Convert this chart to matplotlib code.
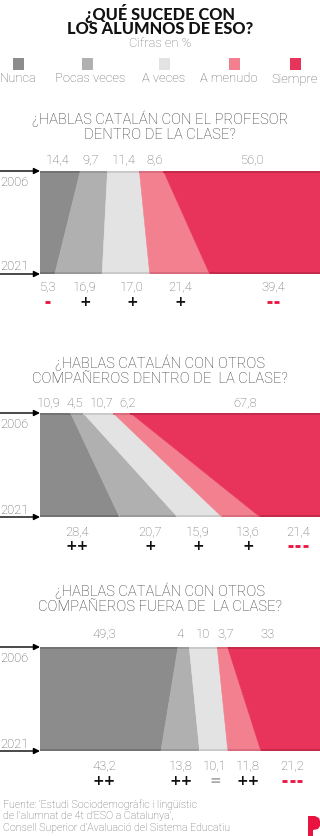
import matplotlib
matplotlib.use("Agg")
import matplotlib.pyplot as plt
import numpy as np
from matplotlib.transforms import blended_transform_factory
from matplotlib.patches import Rectangle, Polygon

# ---------------- data ----------------
categories = ["Nunca", "Pocas veces", "A veces", "A menudo", "Siempre"]
questions = [
    "¿HABLAS CATALÁN CON EL PROFESOR\nDENTRO DE LA CLASE?",
    "¿HABLAS CATALÁN CON OTROS\nCOMPAÑEROS DENTRO DE  LA CLASE?",
    "¿HABLAS CATALÁN CON OTROS\nCOMPAÑEROS FUERA DE  LA CLASE?",
]
values_2006 = [
    [14.4, 9.7, 11.4, 8.6, 56.0],
    [10.9, 4.5, 10.7, 6.2, 67.8],
    [49.3, 4.0, 10.0, 3.7, 33.0],
]
values_2021 = [
    [5.3, 16.9, 17.0, 21.4, 39.4],
    [28.4, 20.7, 15.9, 13.6, 21.4],
    [43.2, 13.8, 10.1, 11.8, 21.2],
]
labels_2006 = [
    ["14,4", "9,7", "11,4", "8,6", "56,0"],
    ["10,9", "4,5", "10,7", "6,2", "67,8"],
    ["49,3", "4", "10", "3,7", "33"],
]
labels_2021 = [
    ["5,3", "16,9", "17,0", "21,4", "39,4"],
    ["28,4", "20,7", "15,9", "13,6", "21,4"],
    ["43,2", "13,8", "10,1", "11,8", "21,2"],
]
change_signs = [
    ["-", "+", "+", "+", "--"],
    ["++", "+", "+", "+", "---"],
    ["++", "++", "=", "++", "---"],
]
years = ["2006", "2021"]

# ---------------- styles / layout ----------------
colors = ["#8c8c8c", "#b0b0b0", "#e3e3e3", "#f2808f", "#e8335a"]
dark_colors = ["#737373", "#9a9a9a", "#cacaca", "#d96b7c", "#c52a4b"]
sign_colors = {"-": "#e8133f", "+": "#111111", "=": "#aaaaaa"}

W, H = 320, 836
panel_px = [(171, 274), (413, 517), (647, 751)]
question_off = [-45, -43, -49]
top_lab_off = [-11, -10, -13]
bot_lab_off = [13, 15, 15]
sign_off = [28, 29, 30]
nudge_top = [[-0.8, -1.3, 0.2, 1.2, 3.7],
             [-2.5, -0.6, 1.3, 2.2, 7.0],
             [-1.7, -1.3, -0.1, 1.2, -2.1]]
nudge_bot = [[0.2, 2.3, 2.2, 0.1, 2.9],
             [-1.0, 0.5, -0.6, 2.5, 2.8],
             [1.3, 0.3, 0.4, 1.3, 0.5]]

FONT = "Roboto"
plt.rcParams["font.family"] = [FONT, "DejaVu Sans"]

def fy(py):
    return 1 - py / H

def fx(px):
    return px / W

fig = plt.figure(figsize=(W / 100, H / 100), dpi=100)
fig.patch.set_facecolor("white")

# ---------------- title ----------------
fig.text(0.5, fy(20.5), "¿QUÉ SUCEDE CON\nLOS ALUMNOS DE ESO?", ha="center", va="center",
         fontsize=11.8, fontweight=900, color="#111111", linespacing=0.92,
         family=["Lato", "Roboto", "DejaVu Sans"])
fig.text(0.5, fy(43.5), "Cifras en %", ha="center", va="center",
         fontsize=9.4, fontweight="light", color="#777777")

# ---------------- legend ----------------
leg_x = [18, 87, 164, 234, 295]
leg_text_x = [18, 90, 164, 229, 295]
for i, cat in enumerate(categories):
    fig.patches.append(Rectangle((fx(leg_x[i] - 5.5), fy(69.5)), fx(11), 11 / H,
                                 transform=fig.transFigure, facecolor=colors[i],
                                 edgecolor="none"))
    fig.text(fx(leg_text_x[i]), fy(79), cat, ha="center", va="center",
             fontsize=9.4, fontweight="light", color="#666666")

# ---------------- panels ----------------
strip = 2.2  # px
px_to_pct = 100 / 280
for p in range(3):
    T, B = panel_px[p]
    ax = fig.add_axes([40 / W, fy(B), 280 / W, (B - T) / H])
    ax.set_xlim(0, 100)
    ax.set_ylim(0, 1)
    ax.axis("off")
    c06 = np.concatenate([[0], np.cumsum(values_2006[p])])
    c21 = np.concatenate([[0], np.cumsum(values_2021[p])])
    hs = strip / (B - T)
    for i in range(5):
        ax.fill([c06[i], c06[i + 1], c21[i + 1], c21[i]], [1, 1, 0, 0],
                color=colors[i], lw=0.4, ec=colors[i])
        ax.add_patch(Rectangle((c06[i], 1 - hs), c06[i + 1] - c06[i], hs,
                               facecolor=dark_colors[i], edgecolor="none"))
        ax.add_patch(Rectangle((c21[i], 0), c21[i + 1] - c21[i], hs,
                               facecolor=dark_colors[i], edgecolor="none"))

    tr = blended_transform_factory(ax.transData, fig.transFigure)
    for i in range(5):
        xm = (c06[i] + c06[i + 1]) / 2 + nudge_top[p][i]
        ax.text(xm, fy(T + top_lab_off[p]), labels_2006[p][i], transform=tr,
                ha="center", va="center", fontsize=9.4, fontweight="light",
                color="#666666", clip_on=False)
        xb = (c21[i] + c21[i + 1]) / 2 + nudge_bot[p][i]
        ax.text(xb, fy(B + bot_lab_off[p]), labels_2021[p][i], transform=tr,
                ha="center", va="center", fontsize=9.4, fontweight="light",
                color="#666666", clip_on=False)
        s = change_signs[p][i]
        col = sign_colors[s[0]]
        ys = fy(B + sign_off[p])
        if s[0] == "-":
            n = len(s)
            dash, gap = 5 * px_to_pct, 2.5 * px_to_pct
            total = n * dash + (n - 1) * gap
            x0 = xb - total / 2
            for k in range(n):
                xa = x0 + k * (dash + gap)
                ax.plot([xa, xa + dash], [ys, ys], transform=tr, color=col,
                        lw=2.0, solid_capstyle="butt", clip_on=False)
        else:
            ax.text(xb, ys, s, transform=tr, ha="center",
                    va="center", fontsize=10, fontweight="bold", color=col,
                    clip_on=False, family="DejaVu Sans")

    fig.text(0.5, fy(T + question_off[p]), questions[p], ha="center", va="center",
             fontsize=10.6, fontweight="light", color="#333333", linespacing=1.05)

    for yv in (1, 0):
        ax.annotate("", xy=(0, yv), xycoords="axes fraction",
                    xytext=(-28.8, 0), textcoords="offset points",
                    arrowprops=dict(arrowstyle="-|>", color="black", lw=1.0,
                                    mutation_scale=9, shrinkA=0, shrinkB=0),
                    annotation_clip=False)
    fig.text(fx(0.5), fy(T + 11), years[0], ha="left", va="center",
             fontsize=9.4, fontweight="light", color="#555555")
    fig.text(fx(0.5), fy(B - 7), years[1], ha="left", va="center",
             fontsize=9.4, fontweight="light", color="#555555")

# ---------------- footer ----------------
fig.text(fx(3), fy(816), "Fuente: ‘Estudi Sociodemogràfic i lingüístic\n"
         "de l’alumnat de 4t d’ESO a Catalunya’,\n"
         "Consell Superior d’Avaluació del Sistema Educatiu",
         ha="left", va="center", fontsize=7.7, fontweight="light",
         color="#666666", linespacing=1.15)

logo_pts = [(308, 836), (308, 816), (315, 816), (319, 818), (320, 821),
            (320, 826), (318, 829), (313, 830), (313, 836)]
fig.patches.append(Polygon([(fx(x), fy(y)) for x, y in logo_pts], closed=True,
                           transform=fig.transFigure, facecolor="#e8133f",
                           edgecolor="none"))

fig.savefig("out.png", dpi=100, facecolor="white")
